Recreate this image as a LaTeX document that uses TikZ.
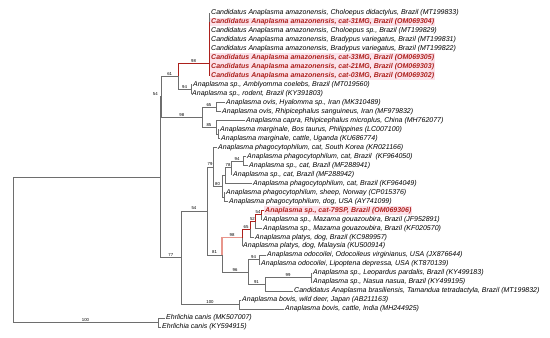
\documentclass[tikz,border=0pt]{standalone}
\usepackage{fontspec}
\setmainfont{Liberation Sans}
\usepackage{xcolor}
\usepackage{tikz}
\usetikzlibrary{positioning}
\definecolor{branchgray}{RGB}{110,110,110}
\definecolor{catred}{RGB}{172,32,28}
\definecolor{catpink}{RGB}{252,226,234}
\definecolor{cladesalmon}{RGB}{232,150,140}

\begin{document}
\begin{tikzpicture}[x=1pt, y=-8.97pt,
  br/.style={draw=branchgray, line width=0.6pt},
  hot/.style={draw=catred, line width=0.7pt},
  tip/.style={anchor=west, inner xsep=1pt, inner ysep=1.2pt, text height=5pt,
    text depth=1.5pt, font=\fontsize{7}{8}\selectfont\itshape},
  cat/.style={tip, fill=catpink, text=catred,
    font=\fontsize{7}{8}\selectfont\bfseries\itshape},
  bs/.style={font=\fontsize{4.3}{5}\selectfont, inner sep=0.6pt, above}]
\useasboundingbox (0,-0.45) rectangle (550,37.23);
% internal nodes (x in pt, y in rows)
\coordinate (root) at (13,27.4);
\coordinate (nP) at (160.5,19.31);
\coordinate (n54) at (161.5,10.34);
\coordinate (n61) at (178,8.05);
\coordinate (nAm) at (209,6.6);
\coordinate (n94a) at (191,9.5);
\coordinate (n98) at (202,12.625);
\coordinate (n65) at (216,11.5);
\coordinate (n85) at (216,13.75);
\coordinate (nMarg) at (218,14.5);
\coordinate (n77) at (181,28.28);
\coordinate (n54b) at (207,23.06);
\coordinate (n79) at (213,18.16);
\coordinate (n80) at (222,20.31);
\coordinate (nZ) at (225,19.125);
\coordinate (n78) at (231,18.25);
\coordinate (n94b) at (243,17.5);
\coordinate (nW) at (224,21.5);
\coordinate (n81) at (222,27.97);
\coordinate (n98b) at (242,26.06);
\coordinate (n65b) at (250,25.125);
\coordinate (n52) at (255,24.25);
\coordinate (n54c) at (261,23.5);
\coordinate (n96) at (248,29.875);
\coordinate (n94c) at (259,28.5);
\coordinate (n91) at (265,31.25);
\coordinate (n99) at (311,30.5);
\coordinate (n100) at (239,33.5);
\coordinate (nE) at (158,35.5);
% tips
\node[tip] (t1) at (210,1) {Candidatus Anaplasma amazonensis, Choloepus didactylus, Brazil (MT199833)};
\node[cat] (t2) at (210,2) {Candidatus Anaplasma amazonensis, cat-31MG, Brazil (OM069304)};
\node[tip] (t3) at (210,3) {Candidatus Anaplasma amazonensis, Choloepus sp., Brazil (MT199829)};
\node[tip] (t4) at (210,4) {Candidatus Anaplasma amazonensis, Bradypus variegatus, Brazil (MT199831)};
\node[tip] (t5) at (210,5) {Candidatus Anaplasma amazonensis, Bradypus variegatus, Brazil (MT199822)};
\node[cat] (t6) at (210,6) {Candidatus Anaplasma amazonensis, cat-33MG, Brazil (OM069305)};
\node[cat] (t7) at (210,7) {Candidatus Anaplasma amazonensis, cat-21MG, Brazil (OM069303)};
\node[cat] (t8) at (210,8) {Candidatus Anaplasma amazonensis, cat-03MG, Brazil (OM069302)};
\node[tip] (t9) at (192,9) {Anaplasma sp., Amblyomma coelebs, Brazil (MT019560)};
\node[tip] (t10) at (191,10) {Anaplasma sp., rodent, Brazil (KY391803)};
\node[tip] (t11) at (225,11) {Anaplasma ovis, Hyalomma sp., Iran (MK310489)};
\node[tip] (t12) at (221,12) {Anaplasma ovis, Rhipicephalus sanguineus, Iran (MF979832)};
\node[tip] (t13) at (245,13) {Anaplasma capra, Rhipicephalus microplus, China (MH762077)};
\node[tip] (t14) at (219,14) {Anaplasma marginale, Bos taurus, Philippines (LC007100)};
\node[tip] (t15) at (220,15) {Anaplasma marginale, cattle, Uganda (KU686774)};
\node[tip] (t16) at (217,16) {Anaplasma phagocytophilum, cat, South Korea (KR021166)};
\node[tip] (t17) at (246,17) {Anaplasma phagocytophilum, cat, Brazil\ \ (KF964050)};
\node[tip] (t18) at (248,18) {Anaplasma sp., cat, Brazil (MF288941)};
\node[tip] (t19) at (232,19) {Anaplasma sp., cat, Brazil (MF288942)};
\node[tip] (t20) at (252,20) {Anaplasma phagocytophilum, cat, Brazil (KF964049)};
\node[tip] (t21) at (225,21) {Anaplasma phagocytophilum, sheep, Norway (CP015376)};
\node[tip] (t22) at (228,22) {Anaplasma phagocytophilum, dog, USA (AY741099)};
\node[cat] (t23) at (264,23) {Anaplasma sp., cat-79SP, Brazil (OM069306)};
\node[tip] (t24) at (262,24) {Anaplasma sp., Mazama gouazoubira, Brazil (JF952891)};
\node[tip] (t25) at (262,25) {Anaplasma sp., Mazama gouazoubira, Brazil (KF020570)};
\node[tip] (t26) at (254,26) {Anaplasma platys, dog, Brazil (KC989957)};
\node[tip] (t27) at (242,27) {Anaplasma platys, dog, Malaysia (KU500914)};
\node[tip] (t28) at (266,28) {Anaplasma odocoilei, Odocoileus virginianus, USA (JX876644)};
\node[tip] (t29) at (260,29) {Anaplasma odocoilei, Lipoptena depressa, USA (KT870139)};
\node[tip] (t30) at (312,30) {Anaplasma sp., Leopardus pardalis, Brazil (KY499183)};
\node[tip] (t31) at (312,31) {Anaplasma sp., Nasua nasua, Brazil (KY499195)};
\node[tip] (t32) at (293,32) {Candidatus Anaplasma brasiliensis, Tamandua tetradactyla, Brazil (MT199832)};
\node[tip] (t33) at (241,33) {Anaplasma bovis, wild deer, Japan (AB211163)};
\node[tip] (t34) at (284,34) {Anaplasma bovis, cattle, India (MH244925)};
\node[tip] (t35) at (165,35) {Ehrlichia canis (MK507007)};
\node[tip] (t36) at (161,36) {Ehrlichia canis (KY594915)};
% branches
\draw[br] (root) |- (nP);
\draw[br] (root) |- node[bs, pos=.75] {100} (nE);
\draw[br] (nP) |- (n54);
\draw[br] (nP) |- node[bs, pos=.75] {77} (n77);
\node[bs, above left=0.8pt and 3pt of n54] {54};
\draw[br] (n54) |- node[bs, pos=.75] {61} (n61);
\draw[br] (n54) |- node[bs, pos=.75] {98} (n98);
\draw[br] (n61) |- node[bs, pos=.75] {94} (n94a);
\draw[br] (nAm) |- (t1.west);
\draw[br] (nAm) |- (t3.west);
\draw[br] (nAm) |- (t4.west);
\draw[br] (nAm) |- (t5.west);
\draw[br] (n94a) |- (t9.west);
\draw[br] (n94a) |- (t10.west);
\draw[br] (n98) |- node[bs, pos=.75] {65} (n65);
\draw[br] (n98) |- node[bs, pos=.75] {85} (n85);
\draw[br] (n65) |- (t11.west);
\draw[br] (n65) |- (t12.west);
\draw[br] (n85) |- (t13.west);
\draw[br] (n85) |- (nMarg);
\draw[br] (nMarg) |- (t14.west);
\draw[br] (nMarg) |- (t15.west);
\draw[br] (n77) |- node[bs, pos=.75] {54} (n54b);
\draw[br] (n77) |- node[bs, pos=.75] {100} (n100);
\draw[br] (n54b) |- node[bs, pos=.75] {79} (n79);
\draw[br] (n54b) |- node[bs, pos=.75] {81} (n81);
\draw[br] (n79) |- (t16.west);
\draw[br] (n79) |- node[bs, pos=.75] {80} (n80);
\draw[br] (n80) |- (nZ);
\draw[br] (n80) |- (nW);
\draw[br] (nZ) |- node[bs, pos=.75] {78} (n78);
\draw[br] (nZ) |- (t20.west);
\draw[br] (n78) |- node[bs, pos=.75] {94} (n94b);
\draw[br] (n78) |- (t19.west);
\draw[br] (n94b) |- (t17.west);
\draw[br] (n94b) |- (t18.west);
\draw[br] (nW) |- (t21.west);
\draw[br] (nW) |- (t22.west);
\draw[br] (n81) |- node[bs, pos=.75] {96} (n96);
\draw[br] (n98b) |- (t27.west);
\draw[br] (n65b) |- (t26.west);
\draw[br] (n52) |- (t25.west);
\draw[br] (n54c) |- (t24.west);
\draw[br] (n96) |- node[bs, pos=.75] {94} (n94c);
\draw[br] (n96) |- node[bs, pos=.75] {91} (n91);
\draw[br] (n94c) |- (t28.west);
\draw[br] (n94c) |- (t29.west);
\draw[br] (n91) |- node[bs, pos=.75] {99} (n99);
\draw[br] (n91) |- (t32.west);
\draw[br] (n99) |- (t30.west);
\draw[br] (n99) |- (t31.west);
\draw[br] (n100) |- (t33.west);
\draw[br] (n100) |- (t34.west);
\draw[br] (nE) |- (t35.west);
\draw[br] (nE) |- (t36.west);
% cat lineages
\draw[hot] (n61) |- node[bs, pos=.75] {98} (nAm);
\draw[hot] (nAm) |- (t2.west);
\draw[hot] (nAm) |- (t6.west);
\draw[hot] (nAm) |- (t7.west);
\draw[hot] (nAm) |- (t8.west);
\draw[br, draw=cladesalmon, line width=1.2pt] (n81) |- node[bs, pos=.75] {98} (n98b);
\draw[hot] (n98b) |- node[bs, pos=.75] {65} (n65b);
\draw[hot] (n65b) |- node[bs, pos=.75] {52} (n52);
\draw[hot] (n52) |- node[bs, pos=.75] {54} (n54c);
\draw[hot] (n54c) |- (t23.west);
\end{tikzpicture}
\end{document}
